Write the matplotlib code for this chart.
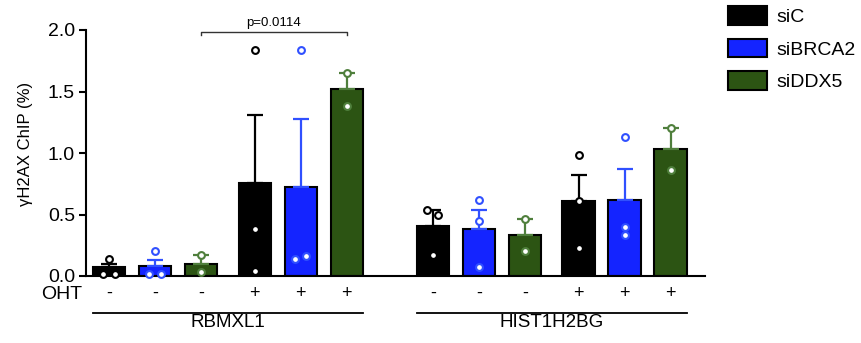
import matplotlib.pyplot as plt
from matplotlib.patches import Patch

plt.rcParams['font.family'] = ['Liberation Sans', 'DejaVu Sans']

sirnas = ['siC', 'siBRCA2', 'siDDX5']
genes = ['RBMXL1', 'HIST1H2BG']
oht = ['-', '-', '-', '+', '+', '+']

# mean / upper error per bar (siC-, siBRCA2-, siDDX5-, siC+, siBRCA2+, siDDX5+)
rbmxl1_mean = [0.07, 0.08, 0.10, 0.76, 0.72, 1.52]
rbmxl1_err = [0.03, 0.05, 0.07, 0.55, 0.56, 0.13]
rbmxl1_pts = [[0.02, 0.02, 0.14], [0.02, 0.02, 0.20], [0.03, 0.17],
              [0.385, 0.04, 1.84], [0.14, 0.16, 1.84], [1.38, 1.65]]

hist_mean = [0.41, 0.38, 0.33, 0.61, 0.62, 1.03]
hist_err = [0.13, 0.16, 0.13, 0.21, 0.25, 0.17]
hist_pts = [[0.17, 0.54, 0.50], [0.62, 0.45, 0.07], [0.20, 0.46],
            [0.98, 0.61, 0.23], [1.13, 0.40, 0.33], [1.20, 0.86]]

p_text = 'p=0.0114'

fill = ['#000000', '#1424ff', '#2c5413']
line = ['#000000', '#3050ff', '#4f7f3c']

fig = plt.figure(figsize=(8.61, 3.43), dpi=100)
ax = fig.add_axes([86/861, 1-276/343, (705-86)/861, (276-30)/343])

width = 0.70
group_start = [0.0, 7.04]
oht_shift = 3.17

means = [rbmxl1_mean, hist_mean]
errs = [rbmxl1_err, hist_err]
pts = [rbmxl1_pts, hist_pts]

all_x = []
for g in range(2):
    xs = []
    for i in range(6):
        x = group_start[g] + (i % 3) + (i // 3) * oht_shift
        xs.append(x)
        c = i % 3
        ax.bar(x, means[g][i], width, color=fill[c], edgecolor='black',
               linewidth=1.5, zorder=2)
        ax.errorbar(x, means[g][i], yerr=[[0], [errs[g][i]]], color=line[c],
                    capsize=6, elinewidth=1.6, capthick=1.6, zorder=3)
        vals = pts[g][i]
        offs = [0.0] * len(vals)
        for a in range(len(vals)):
            for b in range(a+1, len(vals)):
                if abs(vals[a] - vals[b]) < 0.05:
                    offs[a] = -0.12
                    offs[b] = 0.12
        ax.scatter([x + o for o in offs], vals, s=24, facecolor='white',
                   edgecolor=line[c], linewidth=1.5, zorder=4, clip_on=False)
        ax.annotate(oht[i], xy=(x, 0), xycoords=('data', 'axes fraction'),
                    xytext=(0, -12.5), textcoords='offset points',
                    ha='center', va='center', fontsize=13)
    all_x.append(xs)
    x0 = xs[0] - width/2
    x1 = xs[-1] + width/2
    ax.plot([x0, x1], [-0.151, -0.151], color='black', lw=1.3,
            transform=ax.get_xaxis_transform(), clip_on=False)
    ax.annotate(genes[g], xy=((x0 + x1)/2, 0), xycoords=('data', 'axes fraction'),
                xytext=(0, -33.5), textcoords='offset points',
                ha='center', va='center', fontsize=13.5)

ax.annotate('OHT', xy=(0, 0), xycoords='axes fraction', xytext=(-3, -13),
            textcoords='offset points', ha='right', va='center', fontsize=14)

# significance bracket
bx0, bx1 = all_x[0][2], all_x[0][5]
ax.plot([bx0, bx0, bx1, bx1], [1.96, 1.987, 1.987, 1.96], color='#333333',
        lw=1, clip_on=False)
ax.text((bx0 + bx1)/2, 2.01, p_text, ha='center', va='bottom', fontsize=9.5)

ax.set_xlim(-0.5, 12.96)
ax.set_ylim(0, 2.0)
ax.set_yticks([0, 0.5, 1.0, 1.5, 2.0])
ax.set_yticklabels(['0.0', '0.5', '1.0', '1.5', '2.0'], fontsize=14)
ax.set_xticks([])
ax.set_ylabel('γH2AX ChIP (%)', fontsize=12, va='center')
ax.yaxis.set_label_coords(-0.097, 0.537)
ax.spines['top'].set_visible(False)
ax.spines['right'].set_visible(False)
ax.spines['left'].set_linewidth(1.5)
ax.spines['bottom'].set_linewidth(1.5)
ax.tick_params(axis='y', length=5, width=1.5, pad=3)

handles = [Patch(facecolor=fill[k], edgecolor='black', linewidth=1.5) for k in range(3)]
fig.legend(handles, sirnas, loc='upper left', bbox_to_anchor=(728/861, 1-6/343),
           frameon=False, fontsize=14, handlelength=2.0, handleheight=1.1,
           labelspacing=0.65, handletextpad=0.5, borderpad=0, borderaxespad=0)

fig.savefig('out.png', dpi=100)
